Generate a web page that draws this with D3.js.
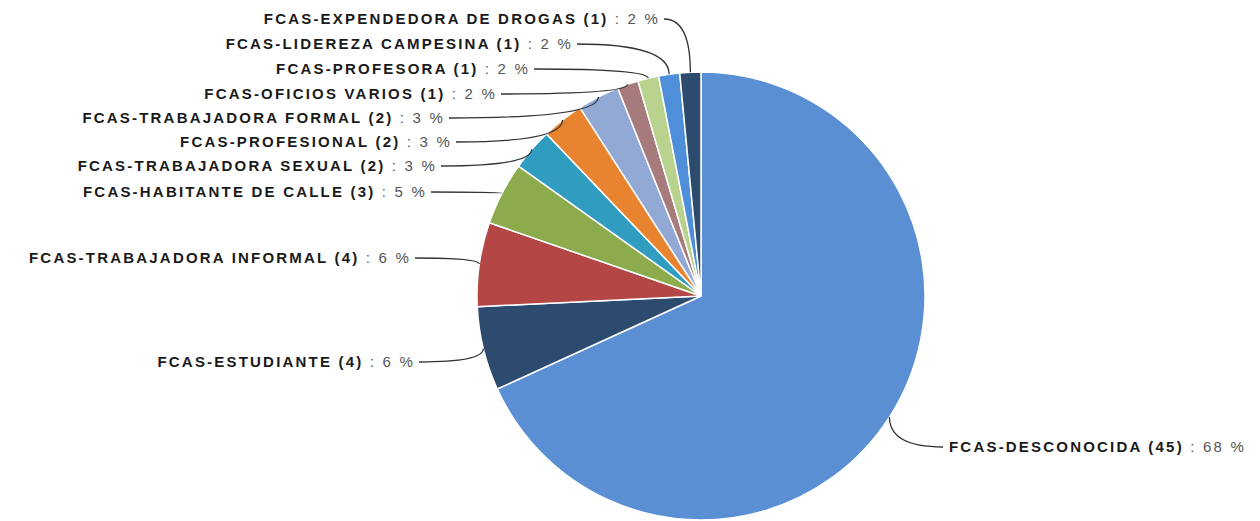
<!DOCTYPE html>
<html>
<head>
<meta charset="utf-8">
<script src="https://cdn.jsdelivr.net/npm/d3@7"></script>
<style>
  body { margin: 0; background: #fff; }
  svg text { font-family: "Liberation Sans", Arial, sans-serif; font-size: 15px; letter-spacing: 2.2px; }
  .lbl { font-weight: bold; fill: #1a1a1a; }
  .pct { font-weight: normal; fill: #555; }
</style>
</head>
<body>
<div class="chart"></div>
<script>
// data
var categories = [
  "FCAS-DESCONOCIDA", "FCAS-ESTUDIANTE", "FCAS-TRABAJADORA INFORMAL",
  "FCAS-HABITANTE DE CALLE", "FCAS-TRABAJADORA SEXUAL", "FCAS-PROFESIONAL",
  "FCAS-TRABAJADORA FORMAL", "FCAS-OFICIOS VARIOS", "FCAS-PROFESORA",
  "FCAS-LIDEREZA CAMPESINA", "FCAS-EXPENDEDORA DE DROGAS"
];
var counts = [45, 4, 4, 3, 2, 2, 2, 1, 1, 1, 1];
var percents = [68, 6, 6, 5, 3, 3, 3, 2, 2, 2, 2];
var colors = ["#5a8fd4", "#2d4b6f", "#b54646", "#8bab4c", "#2f9cc0", "#e8832f",
              "#93a9d5", "#a77a7c", "#b9d38f", "#4f8fd9", "#2d4b6f"];

// label layout (x of text end / start, baseline y)
var labelX = [949, 415, 411, 427, 437, 452, 445, 497, 530, 573, 660];
var labelY = [452, 367, 263, 197, 171, 147, 123, 99, 74, 49, 24];

document.addEventListener('DOMContentLoaded', function () {
  var width = 1260, height = 521;
  var cx = 701, cy = 296, radius = 224;

  var svg = d3.select('div.chart').append('svg')
      .attr('width', width)
      .attr('height', height);

  var data = categories.map(function (c, i) {
    return { name: c, count: counts[i], pct: percents[i], color: colors[i], lx: labelX[i], ly: labelY[i], i: i };
  });

  var pie = d3.pie().sort(null).value(function (d) { return d.count; });
  var arc = d3.arc().innerRadius(0).outerRadius(radius);

  var g = svg.append('g').attr('transform', 'translate(' + cx + ',' + cy + ')');

  var arcs = pie(data);

  g.selectAll('path.slice')
    .data(arcs)
    .enter()
    .append('path')
    .attr('class', 'slice')
    .attr('d', arc)
    .attr('fill', function (d) { return d.data.color; })
    .attr('stroke', '#fff')
    .attr('stroke-width', 1.5);

  // leader lines
  svg.selectAll('path.leader')
    .data(arcs)
    .enter()
    .append('path')
    .attr('class', 'leader')
    .attr('fill', 'none')
    .attr('stroke', '#333')
    .attr('stroke-width', 1.3)
    .attr('d', function (d) {
      var a = (d.startAngle + d.endAngle) / 2;
      var px = cx + radius * Math.sin(a);
      var py = cy - radius * Math.cos(a);
      var right = d.data.i === 0;
      var sx = right ? d.data.lx - 6 : d.data.lx + 4;
      var sy = d.data.ly - 5;
      return 'M' + sx + ',' + sy + ' Q' + px + ',' + sy + ' ' + px + ',' + py;
    });

  // labels
  var labels = svg.selectAll('text.label')
    .data(data)
    .enter()
    .append('text')
    .attr('class', 'label')
    .attr('x', function (d) { return d.lx; })
    .attr('y', function (d) { return d.ly; })
    .attr('text-anchor', function (d) { return d.i === 0 ? 'start' : 'end'; });

  labels.append('tspan')
    .attr('class', 'lbl')
    .text(function (d) { return d.name + ' (' + d.count + ')'; });
  labels.append('tspan')
    .attr('class', 'pct')
    .text(function (d) { return ' : ' + d.pct + ' %'; });
});
</script>
</body>
</html>
